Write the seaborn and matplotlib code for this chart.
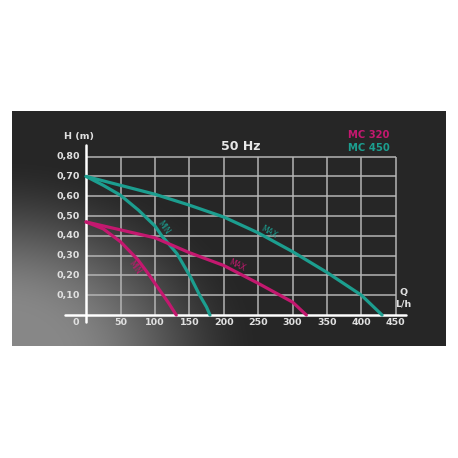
import numpy as np
import matplotlib
matplotlib.use("Agg")
import matplotlib.pyplot as plt
import seaborn as sns

# pump curves (Q in L/h, H in m)
q450_max = [0, 50, 100, 150, 200, 250, 300, 350, 400, 430]
h450_max = [0.70, 0.655, 0.61, 0.555, 0.495, 0.415, 0.32, 0.215, 0.10, 0.0]

q450_min = [0, 25, 50, 76, 100, 110, 132, 152, 165, 175, 180]
h450_min = [0.70, 0.655, 0.605, 0.53, 0.45, 0.40, 0.31, 0.19, 0.10, 0.04, 0.0]

q320_max = [0, 25, 50, 100, 150, 200, 250, 300, 320]
h320_max = [0.47, 0.45, 0.43, 0.39, 0.315, 0.25, 0.16, 0.065, 0.0]

q320_min = [0, 25, 50, 75, 90, 100, 110, 120, 131]
h320_min = [0.47, 0.435, 0.37, 0.28, 0.21, 0.16, 0.11, 0.06, 0.0]

x_ticks = [50, 100, 150, 200, 250, 300, 350, 400, 450]
y_ticks = [0.10, 0.20, 0.30, 0.40, 0.50, 0.60, 0.70, 0.80]
y_tick_labels = ["0,10", "0,20", "0,30", "0,40", "0,50", "0,60", "0,70", "0,80"]

TEAL = "#1c9e8f"
MAGENTA = "#c4186f"

sns.set_style("dark")
plt.rcParams["font.family"] = ["DejaVu Sans"]

fig = plt.figure(figsize=(4.58, 4.58), dpi=100)
fig.patch.set_facecolor("white")

# background panel with the grey glow in the lower left corner
bg = fig.add_axes([0, 0, 1, 1])
bg.set_xlim(0, 458)
bg.set_ylim(458, 0)
bg.axis("off")
xx, yy = np.meshgrid(np.linspace(12, 446, 300), np.linspace(111, 346, 200))
r = np.sqrt(((xx - 0) / 265) ** 2 + ((yy - 360) / 205) ** 2)
glow = np.clip(1.3 * (1 - r), 0, 1)
glow = glow * glow * (3 - 2 * glow)
shade = 0.15 + 0.38 * glow
img = np.dstack([shade, shade, shade])
bg.imshow(img, extent=[12, 446, 346, 111], aspect="auto", interpolation="bilinear")

# chart axes placed over the panel
ax = fig.add_axes([60 / 458, 128 / 458, 350 / 458, 190 / 458])
ax.set_xlim(-37.9, 470.6)
ax.set_ylim(-0.0758, 0.884)
ax.axis("off")
ax.patch.set_alpha(0)

ax.vlines(x_ticks, 0, 0.80, color="#b4b4b4", lw=1.1, zorder=1)
ax.hlines(y_ticks, 0, 450, color="#b4b4b4", lw=1.1, zorder=1)
ax.plot([0, 0], [-0.035, 0.86], color="white", lw=1.8, zorder=2)
ax.plot([-30, 465], [0, 0], color="white", lw=1.8, zorder=2)

for q, h, c in [(q450_max, h450_max, TEAL), (q450_min, h450_min, TEAL),
                (q320_max, h320_max, MAGENTA), (q320_min, h320_min, MAGENTA)]:
    sns.lineplot(x=q, y=h, ax=ax, color=c, lw=2.3, sort=False,
                 estimator=None, zorder=3)

lab = dict(fontsize=5.5, ha="center", va="center", zorder=4)
ax.text(112, 0.44, "MIN", color=TEAL, rotation=-55, **lab)
ax.text(265, 0.42, "MAX", color=TEAL, rotation=-30, **lab)
ax.text(220, 0.25, "MAX", color=MAGENTA, rotation=-25, **lab)
ax.text(71, 0.24, "MIN", color=MAGENTA, rotation=-55, **lab)

tick = dict(fontsize=6.8, color="#e0e0e0", fontweight="bold")
for v, t in zip(y_ticks, y_tick_labels):
    ax.text(-8.8, v, t, ha="right", va="center", **tick)
for v in x_ticks:
    ax.text(v, -0.037, str(v), ha="center", va="center", **tick)
ax.text(-14.6, -0.037, "0", ha="center", va="center", **tick)

ax.text(-11, 0.9, "H (m)", ha="center", va="center", **tick)
ax.text(461, 0.112, "Q", ha="center", va="center", **tick)
ax.text(461, 0.056, "L/h", ha="center", va="center", **tick)
ax.text(224, 0.85, "50 Hz", ha="center", va="center", fontsize=9,
        color="#e8e8e8", fontweight="bold")
ax.text(411, 0.909, "MC 320", ha="center", va="center", fontsize=7.2,
        color=MAGENTA, fontweight="bold")
ax.text(411, 0.843, "MC 450", ha="center", va="center", fontsize=7.2,
        color=TEAL, fontweight="bold")

fig.savefig("out.png", dpi=100)
